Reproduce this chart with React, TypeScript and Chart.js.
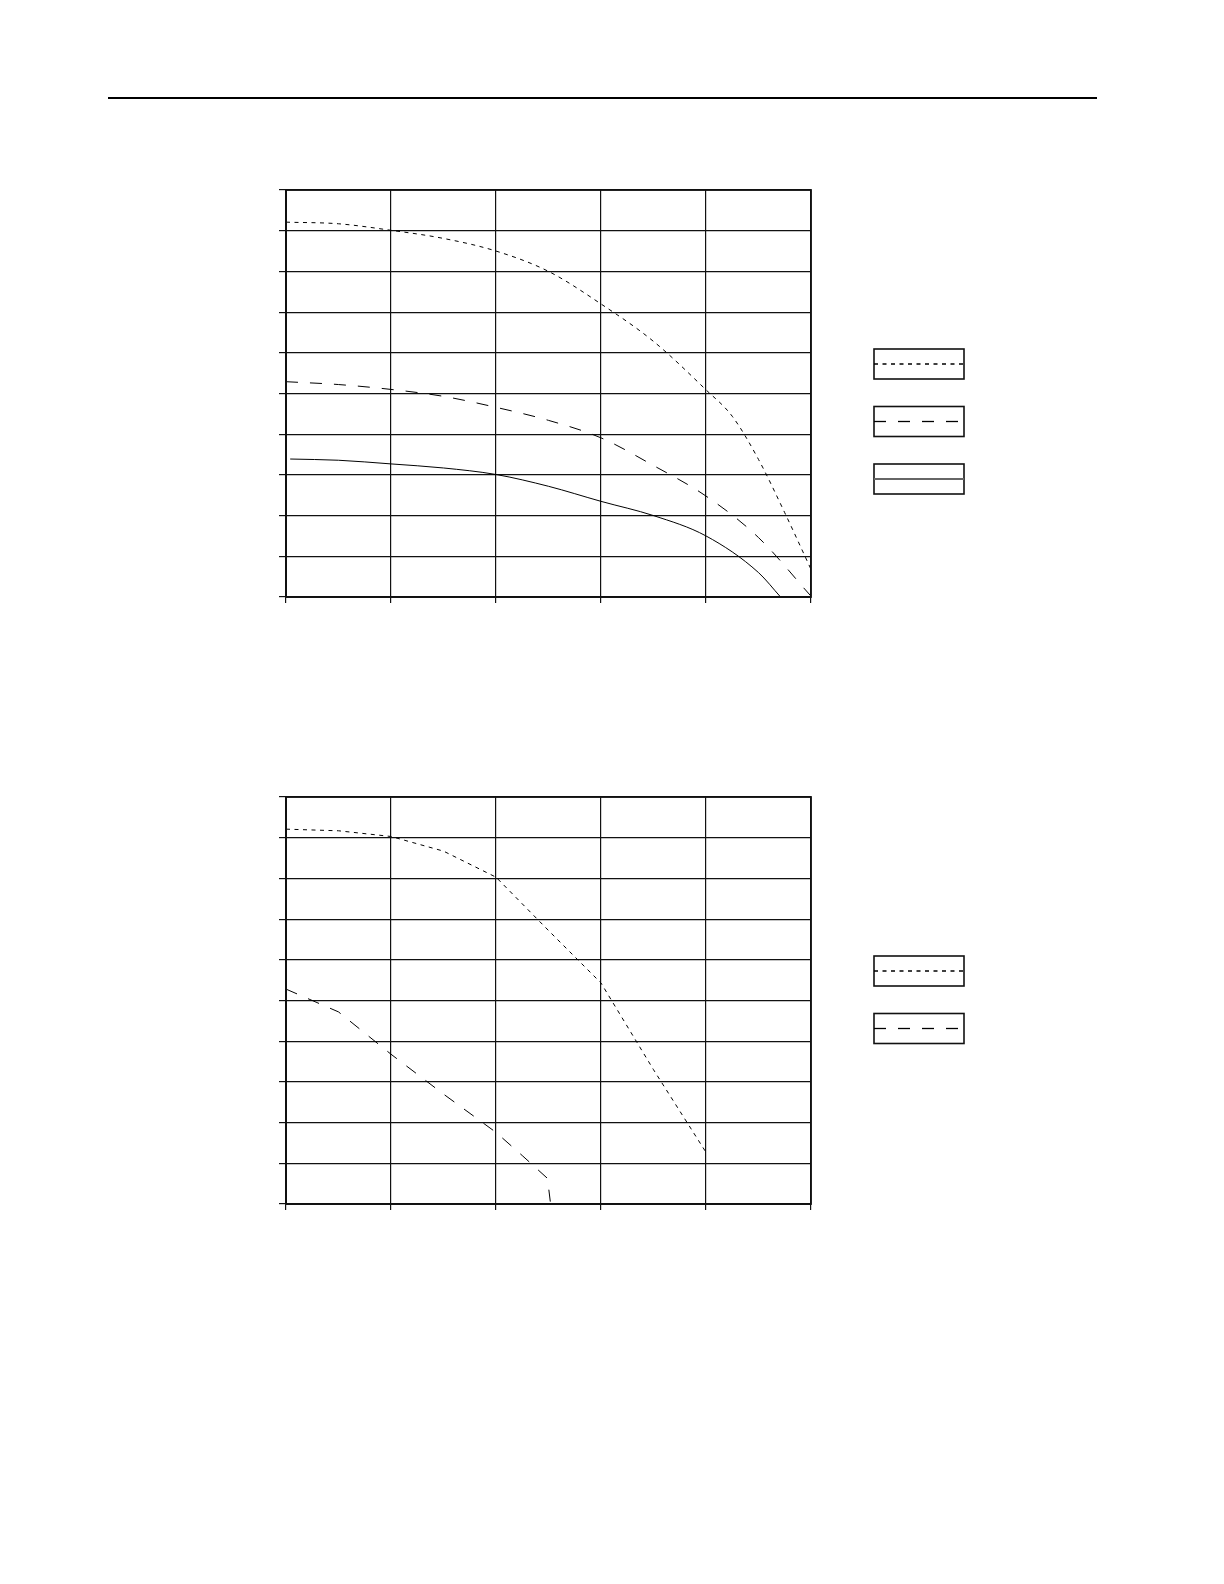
import React, { useEffect, useRef } from "react";
import { Chart, registerables } from "chart.js";

Chart.register(...registerables);

// ---- data ----
const X_MIN = 0;
const X_MAX = 5;
const Y_MIN = 0;
const Y_MAX = 10;

const chart1TopX = [0, 0.5, 1, 1.5, 2, 2.5, 3, 3.5, 4, 4.25, 4.5, 4.75, 5];
const chart1TopY = [9.21, 9.17, 9.01, 8.81, 8.5, 8.0, 7.2, 6.28, 5.09, 4.44, 3.38, 2.07, 0.68];

const chart1MidX = [0, 0.5, 1, 1.5, 2, 2.5, 3, 3.5, 4, 4.5, 5];
const chart1MidY = [5.29, 5.22, 5.1, 4.93, 4.66, 4.34, 3.91, 3.23, 2.48, 1.46, 0.02];

const chart1SolidX = [0.04, 0.5, 1, 1.5, 2, 2.5, 3, 3.5, 4, 4.5, 4.71];
const chart1SolidY = [3.39, 3.36, 3.27, 3.17, 3.01, 2.72, 2.35, 2.0, 1.5, 0.6, 0];

const chart2TopX = [0, 0.5, 1, 1.5, 2, 2.5, 3, 3.5, 4];
const chart2TopY = [9.21, 9.17, 9.03, 8.67, 8.03, 6.72, 5.43, 3.3, 1.27];

const chart2MidX = [0, 0.25, 0.5, 1, 1.5, 2, 2.25, 2.49, 2.52];
const chart2MidY = [5.28, 5.0, 4.72, 3.68, 2.7, 1.76, 1.19, 0.63, 0];

const SHORT_DASH = [4, 4.5];
const LONG_DASH = [12, 12];

function pts(xs: number[], ys: number[]) {
  return xs.map((x, i) => ({ x, y: ys[i] }));
}

function makeDataset(xs: number[], ys: number[], dash: number[], smooth: boolean) {
  return {
    data: pts(xs, ys),
    borderColor: "#000",
    borderWidth: 1,
    borderDash: dash,
    pointRadius: 0,
    fill: false,
    tension: 0,
    cubicInterpolationMode: smooth ? ("monotone" as const) : ("default" as const),
  };
}

const framePlugin = {
  id: "frameAndLegend",
  afterDraw(chart: any) {
    const { ctx, chartArea } = chart;
    ctx.save();
    ctx.strokeStyle = "#111";
    ctx.lineWidth = 1.8;
    ctx.setLineDash([]);
    ctx.strokeRect(chartArea.left, chartArea.top, chartArea.right - chartArea.left, chartArea.bottom - chartArea.top);
    // legend boxes
    const bx = chartArea.right + 63;
    const bw = 90;
    const bh = 30;
    chart.data.datasets.forEach((ds: any, i: number) => {
      const by = chartArea.top + 159 + i * 57.5;
      ctx.setLineDash([]);
      ctx.lineWidth = 1.6;
      ctx.strokeStyle = "#111";
      ctx.strokeRect(bx, by, bw, bh);
      ctx.beginPath();
      const dashed = ds.borderDash && ds.borderDash.length;
      ctx.setLineDash(ds.borderDash || []);
      ctx.lineWidth = dashed ? 1.3 : 2;
      ctx.strokeStyle = dashed ? "#000" : "#666";
      ctx.moveTo(bx, by + bh / 2);
      ctx.lineTo(bx + bw, by + bh / 2);
      ctx.stroke();
    });
    ctx.restore();
  },
};

function buildChart(canvas: HTMLCanvasElement, datasets: any[]) {
  return new Chart(canvas, {
    type: "line",
    data: { datasets },
    options: {
      animation: false,
      responsive: false,
      maintainAspectRatio: false,
      layout: { padding: { top: 18, right: 181, left: 0, bottom: 0 } },
      plugins: { legend: { display: false }, tooltip: { enabled: false } },
      scales: {
        x: {
          type: "linear",
          min: X_MIN,
          max: X_MAX,
          ticks: { display: false, stepSize: 1 },
          grid: { color: "#111", lineWidth: 1.2, tickLength: 6, drawTicks: true },
          border: { display: true, color: "#111", width: 1.8 },
          afterFit(scale: any) {
            scale.height = 20;
          },
        },
        y: {
          type: "linear",
          min: Y_MIN,
          max: Y_MAX,
          ticks: { display: false, stepSize: 1 },
          grid: { color: "#111", lineWidth: 1.2, tickLength: 7, drawTicks: true },
          border: { display: true, color: "#111", width: 2 },
          afterFit(scale: any) {
            scale.width = 34;
          },
        },
      },
    } as any,
    plugins: [framePlugin],
  });
}

export default function App() {
  const ref1 = useRef<HTMLCanvasElement>(null);
  const ref2 = useRef<HTMLCanvasElement>(null);

  useEffect(() => {
    const c1 = buildChart(ref1.current!, [
      makeDataset(chart1TopX, chart1TopY, SHORT_DASH, true),
      makeDataset(chart1MidX, chart1MidY, LONG_DASH, true),
      makeDataset(chart1SolidX, chart1SolidY, [], true),
    ]);
    const c2 = buildChart(ref2.current!, [
      makeDataset(chart2TopX, chart2TopY, SHORT_DASH, false),
      makeDataset(chart2MidX, chart2MidY, LONG_DASH, false),
    ]);
    return () => {
      c1.destroy();
      c2.destroy();
    };
  }, []);

  return (
    <div>
      <div
        style={{
          position: "absolute",
          left: 108,
          top: 97,
          width: 989,
          height: 2,
          background: "#000",
        }}
      />
      <canvas
        ref={ref1}
        width={740}
        height={445}
        style={{ position: "absolute", left: 252, top: 172, width: 740, height: 445 }}
      />
      <canvas
        ref={ref2}
        width={740}
        height={445}
        style={{ position: "absolute", left: 252, top: 779, width: 740, height: 445 }}
      />
    </div>
  );
}
